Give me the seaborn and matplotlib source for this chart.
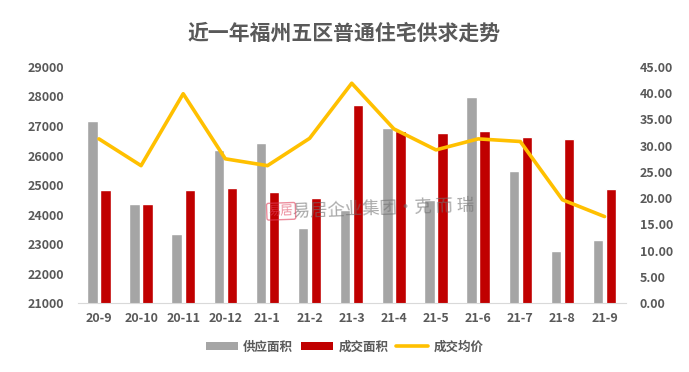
import numpy as np
import pandas as pd
import matplotlib
matplotlib.use('Agg')
import matplotlib.pyplot as plt
import seaborn as sns
from matplotlib.patches import Patch
from matplotlib.lines import Line2D

sns.set_style('white')
plt.rcParams['font.family'] = ['Noto Sans CJK SC', 'DejaVu Sans']

months = ['20-9', '20-10', '20-11', '20-12', '21-1', '21-2', '21-3',
          '21-4', '21-5', '21-6', '21-7', '21-8', '21-9']
supply = [27180, 24370, 23350, 26200, 26430, 23550, 24150,
          26940, 24500, 27990, 25480, 22770, 23150]
deal = [24840, 24370, 24840, 24910, 24770, 24570, 27720,
        26820, 26770, 26840, 26640, 26570, 24870]
price = [31.3, 26.2, 39.9, 27.5, 26.2, 31.4, 41.9,
         33.2, 29.2, 31.3, 30.8, 19.7, 16.5]

GREY = '#A5A5A5'
RED = '#C00000'
YELLOW = '#FFC000'
TEXT = '#595959'

df = pd.DataFrame({
    'month': months * 2,
    'area': supply + deal,
    'kind': ['供应面积'] * len(months) + ['成交面积'] * len(months),
})

fig = plt.figure(figsize=(6.89, 3.72), dpi=100)
ax = fig.add_axes([0.113, 0.185, 0.795, 0.635])

sns.barplot(data=df, x='month', y='area', hue='kind',
            palette={'供应面积': GREY, '成交面积': RED},
            width=0.62, gap=0.2, ax=ax, legend=False, saturation=1)
ax.set_ylim(21000, 29000)
ax.set_yticks(np.arange(21000, 29001, 1000))
ax.set_xlim(-0.5, len(months) - 0.5)
ax.set_xlabel('')
ax.set_ylabel('')

ax2 = ax.twinx()
sns.lineplot(x=np.arange(len(months)), y=price, color=YELLOW,
             linewidth=2.6, ax=ax2)
ax2.set_ylim(0, 45)
ax2.set_yticks(np.arange(0, 45.01, 5))
ax2.set_yticklabels([f'{v:.2f}' for v in np.arange(0, 45.01, 5)])

for a in (ax, ax2):
    for s in a.spines.values():
        s.set_visible(False)
    a.tick_params(length=0, labelsize=9, labelcolor=TEXT)
    for lbl in a.get_yticklabels() + a.get_xticklabels():
        lbl.set_fontweight('bold')
ax.spines['bottom'].set_visible(True)
ax.spines['bottom'].set_color('#D9D9D9')
ax.tick_params(axis='y', pad=10)
ax.tick_params(axis='x', pad=6)
ax2.tick_params(axis='y', pad=10)

fig.text(0.5, 0.91, '近一年福州五区普通住宅供求走势', ha='center', va='center',
         fontsize=15, fontweight='bold', color=TEXT)

# watermark
fig.text(0.557, 0.44, '易居企业集团·克 而 瑞', ha='center', va='center',
         fontsize=12.5, color='#6F6F6F', alpha=0.6, rotation=2)
fig.text(0.408, 0.432, '易居', ha='center', va='center', fontsize=9,
         color='#E0405A', alpha=0.6, rotation=2,
         bbox=dict(boxstyle='round,pad=0.15', facecolor='none',
                   edgecolor='#E0405A', alpha=0.6))

handles = [Patch(facecolor=GREY, edgecolor='none'),
           Patch(facecolor=RED, edgecolor='none'),
           Line2D([0], [0], color=YELLOW, linewidth=2.6)]
fig.legend(handles, ['供应面积', '成交面积', '成交均价'], loc='center',
           bbox_to_anchor=(0.5, 0.067), ncol=3, frameon=False,
           handlelength=2.6, handleheight=0.6,
           columnspacing=0.6, handletextpad=0.4,
           prop={'weight': 'bold', 'size': 9})
for t in fig.legends[0].get_texts():
    t.set_color(TEXT)

fig.savefig('out.png', dpi=100, facecolor='white')
